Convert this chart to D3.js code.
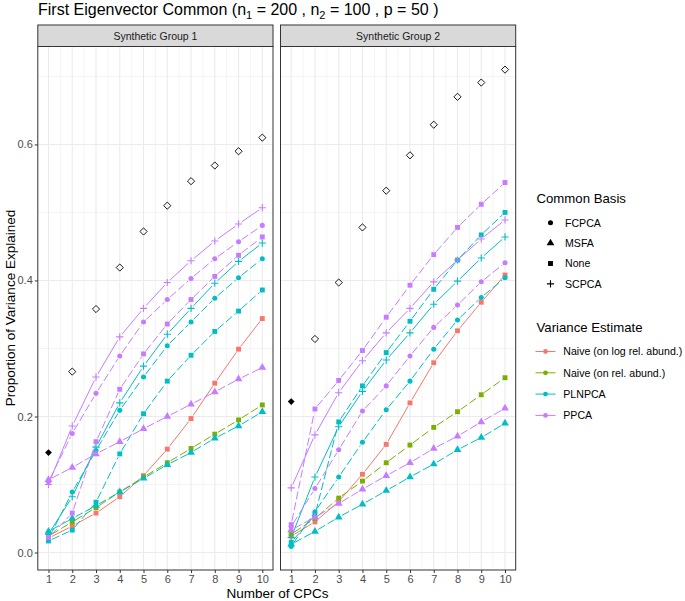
<!DOCTYPE html>
<html>
<head>
<meta charset="utf-8">
<script src="https://cdn.jsdelivr.net/npm/d3@7"></script>
<style>
  body { margin: 0; background: #fff; }
  text { font-family: "Liberation Sans", Arial, sans-serif; }
</style>
</head>
<body>
<div id="chart"></div>
<script>
// data
var cpcs = [1, 2, 3, 4, 5, 6, 7, 8, 9, 10];
var groups = ["Synthetic Group 1", "Synthetic Group 2"];
var bases = ["FCPCA", "MSFA", "None", "SCPCA"];
var estimates = ["Naive (on log rel. abund.)", "Naive (on rel. abund.)", "PLNPCA", "PPCA"];
var yTicks = [0.0, 0.2, 0.4, 0.6];

// the diamonds (first one is filled)
var truthG1 = [0.147, 0.266, 0.358, 0.419, 0.472, 0.510, 0.546, 0.569, 0.590, 0.610];
var truthG2 = [0.222, 0.314, 0.397, 0.478, 0.532, 0.584, 0.629, 0.670, 0.691, 0.710];

// Synthetic Group 1
var g1PpcaScpca   = [0.100, 0.186, 0.258, 0.317, 0.359, 0.397, 0.429, 0.458, 0.483, 0.507];
var g1PpcaFcpca   = [0.104, 0.175, 0.234, 0.289, 0.339, 0.372, 0.403, 0.432, 0.457, 0.481];
var g1PpcaNone    = [0.022, 0.058, 0.163, 0.240, 0.292, 0.336, 0.372, 0.406, 0.437, 0.464];
var g1PpcaMsfa    = [0.107, 0.125, 0.145, 0.163, 0.182, 0.200, 0.218, 0.236, 0.255, 0.272];
var g1PlnScpca    = [0.027, 0.082, 0.155, 0.220, 0.274, 0.321, 0.359, 0.396, 0.428, 0.455];
var g1PlnFcpca    = [0.020, 0.089, 0.150, 0.209, 0.258, 0.304, 0.339, 0.374, 0.404, 0.432];
var g1PlnNone     = [0.017, 0.033, 0.074, 0.145, 0.204, 0.252, 0.290, 0.325, 0.355, 0.386];
var g1PlnMsfa     = [0.031, 0.050, 0.069, 0.089, 0.109, 0.129, 0.147, 0.168, 0.186, 0.207];
var g1NaiveRel    = [0.024, 0.045, 0.066, 0.089, 0.111, 0.132, 0.153, 0.174, 0.195, 0.217];
var g1NaiveLog    = [0.021, 0.039, 0.058, 0.082, 0.113, 0.152, 0.197, 0.249, 0.299, 0.344];

// Synthetic Group 2
var g2PpcaScpca   = [0.095, 0.173, 0.235, 0.282, 0.323, 0.359, 0.398, 0.430, 0.461, 0.489];
var g2PpcaFcpca   = [0.038, 0.094, 0.151, 0.208, 0.245, 0.289, 0.331, 0.364, 0.398, 0.426];
var g2PpcaNone    = [0.041, 0.211, 0.253, 0.297, 0.346, 0.393, 0.438, 0.478, 0.512, 0.544];
var g2PpcaMsfa    = [0.033, 0.052, 0.072, 0.093, 0.113, 0.132, 0.153, 0.171, 0.192, 0.212];
var g2PlnScpca    = [0.022, 0.111, 0.185, 0.237, 0.283, 0.323, 0.365, 0.399, 0.433, 0.464];
var g2PlnFcpca    = [0.009, 0.060, 0.111, 0.162, 0.210, 0.252, 0.299, 0.342, 0.375, 0.404];
var g2PlnNone     = [0.015, 0.055, 0.192, 0.245, 0.294, 0.340, 0.387, 0.430, 0.467, 0.500];
var g2PlnMsfa     = [0.012, 0.031, 0.052, 0.071, 0.091, 0.111, 0.130, 0.151, 0.169, 0.190];
var g2NaiveRel    = [0.027, 0.050, 0.080, 0.105, 0.132, 0.158, 0.184, 0.207, 0.232, 0.257];
var g2NaiveLog    = [0.024, 0.045, 0.075, 0.115, 0.159, 0.220, 0.279, 0.326, 0.368, 0.408];

// table of series: [group index, estimate, basis, values]
var series = [
  [0, "Naive (on log rel. abund.)", "None", g1NaiveLog],
  [0, "Naive (on rel. abund.)", "None", g1NaiveRel],
  [0, "PLNPCA", "FCPCA", g1PlnFcpca],
  [0, "PLNPCA", "MSFA", g1PlnMsfa],
  [0, "PLNPCA", "None", g1PlnNone],
  [0, "PLNPCA", "SCPCA", g1PlnScpca],
  [0, "PPCA", "FCPCA", g1PpcaFcpca],
  [0, "PPCA", "MSFA", g1PpcaMsfa],
  [0, "PPCA", "None", g1PpcaNone],
  [0, "PPCA", "SCPCA", g1PpcaScpca],
  [1, "Naive (on log rel. abund.)", "None", g2NaiveLog],
  [1, "Naive (on rel. abund.)", "None", g2NaiveRel],
  [1, "PLNPCA", "FCPCA", g2PlnFcpca],
  [1, "PLNPCA", "MSFA", g2PlnMsfa],
  [1, "PLNPCA", "None", g2PlnNone],
  [1, "PLNPCA", "SCPCA", g2PlnScpca],
  [1, "PPCA", "FCPCA", g2PpcaFcpca],
  [1, "PPCA", "MSFA", g2PpcaMsfa],
  [1, "PPCA", "None", g2PpcaNone],
  [1, "PPCA", "SCPCA", g2PpcaScpca]
];
var truths = [truthG1, truthG2];

var svgWidth = 685, svgHeight = 601;
var panelTop = 46.5, panelBottom = 570, stripTop = 25;
var panelLeft = [37.8, 280.5], panelW = 235.2;

var color = d3.scaleOrdinal().domain(estimates).range(["#F8766D", "#7CAE00", "#00BFC4", "#C77CFF"]);

var svg = d3.select("#chart").append("svg")
  .attr("width", svgWidth).attr("height", svgHeight);

var yScale = d3.scaleLinear().domain([-0.0257, 0.744]).range([panelBottom, panelTop]);

// shape drawing helpers
function shapePath(basis) {
  if (basis == "FCPCA") return d3.symbol().type(d3.symbolCircle).size(20)();
  if (basis == "MSFA") return d3.symbol().type(d3.symbolTriangle).size(26)();
  if (basis == "None") return d3.symbol().type(d3.symbolSquare).size(24)();
  return "M-3.6,0H3.6M0,-3.6V3.6";
}
function drawShape(g, basis, x, y, col) {
  var p = g.append("path").attr("d", shapePath(basis))
    .attr("transform", "translate(" + x + "," + y + ")");
  if (basis == "SCPCA") p.attr("fill", "none").attr("stroke", col).attr("stroke-width", 1.1);
  else p.attr("fill", col);
}
function dashFor(est, basis) {
  if (basis == "SCPCA" || est == "Naive (on log rel. abund.)") return null;
  return "8,3";
}

// title
var title = svg.append("text").attr("x", 38).attr("y", 14.5)
  .attr("font-size", 16).attr("fill", "#000");
title.append("tspan").text("First Eigenvector Common (n");
title.append("tspan").text("1").attr("font-size", 11).attr("dy", 4);
title.append("tspan").text(" = 200 , n").attr("dy", -4);
title.append("tspan").text("2").attr("font-size", 11).attr("dy", 4);
title.append("tspan").text(" = 100 , p = 50 )").attr("dy", -4);

groups.forEach(function(grp, gi) {
  var x0 = panelLeft[gi];
  var xScale = d3.scaleLinear().domain([0.55, 10.45]).range([x0, x0 + panelW]);
  var panel = svg.append("g");

  // strip
  panel.append("rect").attr("x", x0).attr("y", stripTop)
    .attr("width", panelW).attr("height", panelTop - stripTop)
    .attr("fill", "#D9D9D9").attr("stroke", "#333333").attr("stroke-width", 1);
  panel.append("text").attr("x", x0 + panelW / 2).attr("y", 39.5)
    .attr("text-anchor", "middle").attr("font-size", 10.5).attr("fill", "#1A1A1A")
    .text(grp);

  // background + grid
  panel.append("rect").attr("x", x0).attr("y", panelTop)
    .attr("width", panelW).attr("height", panelBottom - panelTop).attr("fill", "#fff");
  var minorX = d3.range(1.5, 10, 1);
  var minorY = [0.1, 0.3, 0.5, 0.7];
  panel.selectAll(".mx").data(minorX).enter().append("line")
    .attr("x1", d => xScale(d)).attr("x2", d => xScale(d))
    .attr("y1", panelTop).attr("y2", panelBottom)
    .attr("stroke", "#EBEBEB").attr("stroke-width", 0.55);
  panel.selectAll(".my").data(minorY).enter().append("line")
    .attr("x1", x0).attr("x2", x0 + panelW)
    .attr("y1", d => yScale(d)).attr("y2", d => yScale(d))
    .attr("stroke", "#EBEBEB").attr("stroke-width", 0.55);
  panel.selectAll(".gx").data(cpcs).enter().append("line")
    .attr("x1", d => xScale(d)).attr("x2", d => xScale(d))
    .attr("y1", panelTop).attr("y2", panelBottom)
    .attr("stroke", "#EBEBEB").attr("stroke-width", 1.1);
  panel.selectAll(".gy").data(yTicks).enter().append("line")
    .attr("x1", x0).attr("x2", x0 + panelW)
    .attr("y1", d => yScale(d)).attr("y2", d => yScale(d))
    .attr("stroke", "#EBEBEB").attr("stroke-width", 1.1);

  // x axis
  var xAxis = d3.axisBottom(xScale).tickValues(cpcs).tickSize(3).tickPadding(2);
  var xg = panel.append("g").attr("transform", "translate(0," + panelBottom + ")").call(xAxis);
  xg.select(".domain").remove();
  xg.selectAll("line").attr("stroke", "#333333");
  xg.selectAll("text").attr("font-size", 11).attr("fill", "#4D4D4D")
    .attr("font-family", "'Liberation Sans', Arial, sans-serif");

  if (gi == 0) {
    var yAxis = d3.axisLeft(yScale).tickValues(yTicks).tickFormat(d3.format(".1f")).tickSize(3).tickPadding(2);
    var yg = panel.append("g").attr("transform", "translate(" + x0 + ",0)").call(yAxis);
    yg.select(".domain").remove();
    yg.selectAll("line").attr("stroke", "#333333");
    yg.selectAll("text").attr("font-size", 11).attr("fill", "#4D4D4D")
      .attr("font-family", "'Liberation Sans', Arial, sans-serif");
  }

  // series: lines with gaps around points
  var gap = 3.8;
  series.filter(s => s[0] == gi).forEach(function(s) {
    var col = color(s[1]);
    var pts = s[3].map((v, i) => [xScale(cpcs[i]), yScale(v)]);
    var sg = panel.append("g");
    for (var i = 0; i < pts.length - 1; i++) {
      var a = pts[i], b = pts[i + 1];
      var dx = b[0] - a[0], dy = b[1] - a[1];
      var len = Math.sqrt(dx * dx + dy * dy);
      if (len <= 2 * gap) continue;
      var ux = dx / len, uy = dy / len;
      sg.append("line")
        .attr("x1", a[0] + ux * gap).attr("y1", a[1] + uy * gap)
        .attr("x2", b[0] - ux * gap).attr("y2", b[1] - uy * gap)
        .attr("stroke", col).attr("stroke-width", 1)
        .attr("stroke-dasharray", dashFor(s[1], s[2]));
    }
    pts.forEach(p => drawShape(sg, s[2], p[0], p[1], col));
  });

  // diamonds
  truths[gi].forEach(function(v, i) {
    var cx = xScale(cpcs[i]), cy = yScale(v);
    if (i == 0) {
      panel.append("path").attr("d", "M0,-3.4L3.4,0L0,3.4L-3.4,0Z")
        .attr("transform", "translate(" + cx + "," + cy + ")").attr("fill", "#000");
    } else {
      panel.append("path").attr("d", "M0,-3.6L3.6,0L0,3.6L-3.6,0Z")
        .attr("transform", "translate(" + cx + "," + cy + ")")
        .attr("fill", "none").attr("stroke", "#000").attr("stroke-width", 0.9);
    }
  });

  // border
  panel.append("rect").attr("x", x0).attr("y", panelTop)
    .attr("width", panelW).attr("height", panelBottom - panelTop)
    .attr("fill", "none").attr("stroke", "#333333").attr("stroke-width", 1);
});

// axis titles
svg.append("text").attr("x", 277.5).attr("y", 598).attr("text-anchor", "middle")
  .attr("font-size", 13.5).attr("fill", "#000").text("Number of CPCs");
svg.append("text").attr("transform", "translate(14.5,308) rotate(-90)")
  .attr("text-anchor", "middle").attr("font-size", 13.5).attr("fill", "#000")
  .text("Proportion of Variance Explained");

// legends
var leg = svg.append("g");
leg.append("text").attr("x", 536.5).attr("y", 203).attr("font-size", 13.2).text("Common Basis");
var shapeY = [222.7, 243.1, 263.5, 283.9];
bases.forEach(function(b, i) {
  drawShape(leg, b, 550.5, shapeY[i], "#000");
  leg.append("text").attr("x", 565).attr("y", shapeY[i] + 3.8).attr("font-size", 10.6).text(b);
});
leg.append("text").attr("x", 536.5).attr("y", 331.5).attr("font-size", 13.2).text("Variance Estimate");
var colY = [351.5, 372.8, 394.1, 415.4];
estimates.forEach(function(e, i) {
  leg.append("line").attr("x1", 535.5).attr("x2", 555.5)
    .attr("y1", colY[i]).attr("y2", colY[i])
    .attr("stroke", color(e)).attr("stroke-width", 1);
  leg.append("circle").attr("cx", 545.5).attr("cy", colY[i]).attr("r", 2.4).attr("fill", color(e));
  leg.append("text").attr("x", 563.3).attr("y", colY[i] + 3.8).attr("font-size", 10.6).text(e);
});
</script>
</body>
</html>
